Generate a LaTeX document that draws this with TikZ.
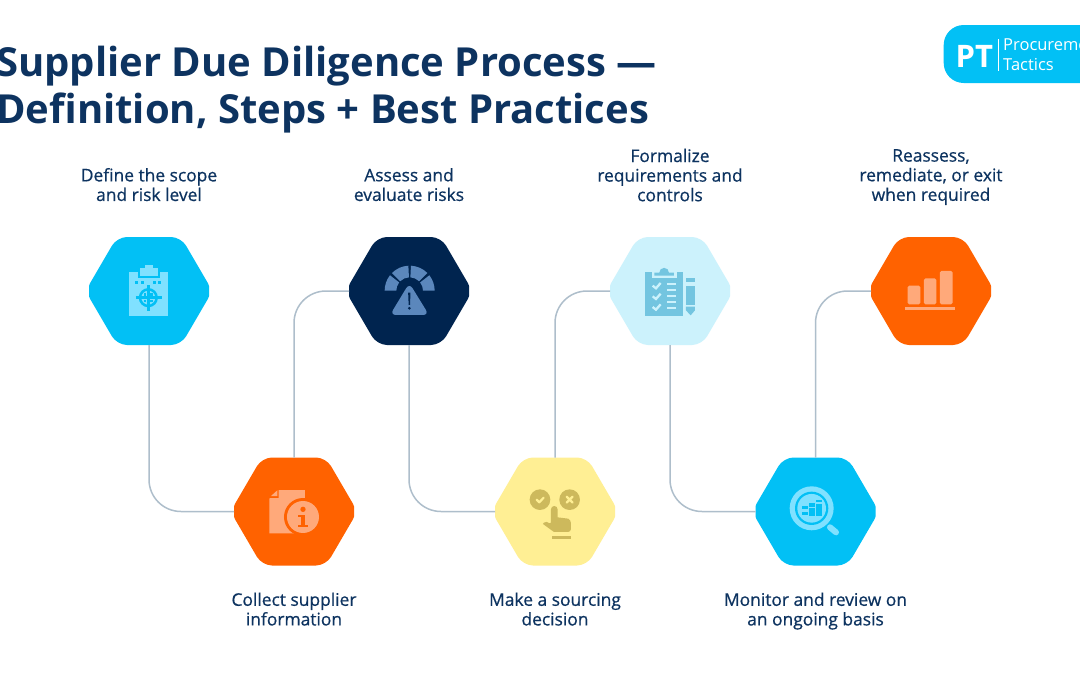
\documentclass[tikz,border=0pt]{standalone}
\usepackage{fontspec}
\setmainfont{Open Sans}
\newfontfamily\semi{Open Sans}[FakeBold=0.6]
\definecolor{cy}{HTML}{02C0F5}
\definecolor{nv}{HTML}{00244F}
\definecolor{orng}{HTML}{FF6200}
\definecolor{yel}{HTML}{FFEF94}
\definecolor{lb}{HTML}{CCF2FC}
\definecolor{ttl}{HTML}{0D3360}
\definecolor{conn}{HTML}{AEBECB}
\definecolor{icy}{HTML}{80E1FF}
\definecolor{ior}{HTML}{FFA97A}
\definecolor{inv}{HTML}{5B87BC}
\definecolor{iye}{HTML}{CDB95C}
\definecolor{ilb}{HTML}{73C5E0}
\tikzset{
 hexa/.style={rectangle,inner sep=0pt,outer sep=0pt,minimum width=120pt,minimum height=108pt,
  path picture={\begin{scope}[shift={(path picture bounding box.center)}]
   \fill[#1] (0,-54) [rounded corners=10pt] -- (32,-54) [rounded corners=9pt] -- (63.5,0) [rounded corners=10pt] -- (32,54) -- (-32,54) [rounded corners=9pt] -- (-63.5,0) [rounded corners=10pt] -- (-32,-54) [sharp corners] -- cycle;
  \end{scope}}},
 link/.style={draw=conn,line width=1.5pt,rounded corners=32pt},
 lbl/.style={text=ttl,align=center,font=\semi\fontsize{17.4}{19.6}\selectfont,inner sep=0pt,text depth=4pt},
 zoomed/.style={shift={#1},x=0.3333pt,y=-0.3333pt}
}
\newcommand{\gaugeseg}[2]{\fill[inv] ({209+75*cos(#1)},{197-75*sin(#1)}) arc[start angle=-#1,end angle=-#2,radius=75] -- ({209+40*cos(#2)},{197-40*sin(#2)}) arc[start angle=-#2,end angle=-#1,radius=40] -- cycle;}
\begin{document}
\begin{tikzpicture}[x=1pt,y=-1pt]
\useasboundingbox (0,0) rectangle (1080,675);
\fill[white] (0,0) rectangle (1080,675);
% title
\node[anchor=west,align=left,text=ttl,inner sep=0pt,font=\bfseries\fontsize{40}{47}\selectfont] (title) at (-4,89.5) {Supplier Due Diligence Process —\\Definition, Steps + Best Practices};
% logo
\fill[cy,rounded corners=20pt] (943.7,25) rectangle (1110,83);
\node[anchor=base west,text=white,inner sep=0pt,font=\bfseries\fontsize{31}{31}\selectfont] (pt) at (955.5,67) {PT};
\draw[white,line width=0.8pt] (998.3,39) -- (998.3,71);
\node[anchor=base west,text=white,inner sep=0pt,font=\fontsize{16.5}{16.5}\selectfont] (pr) at (1003,50) {Procurement};
\node[anchor=base west,text=white,inner sep=0pt,font=\fontsize{16.5}{16.5}\selectfont] (ta) at (1003,70) {Tactics};
% hexagons
\node[hexa=cy] (h1) at (149,291) {};
\node[hexa=orng] (h2) at (294,511.5) {};
\node[hexa=nv] (h3) at (409,291) {};
\node[hexa=yel] (h4) at (555,511.5) {};
\node[hexa=lb] (h5) at (670,291) {};
\node[hexa=cy] (h6) at (815.5,511.5) {};
\node[hexa=orng] (h7) at (931,291) {};
% connectors
\draw[link] (h1.south) |- (h2.west);
\draw[link] (h2.north) |- (h3.west);
\draw[link] (h3.south) |- (h4.west);
\draw[link] (h4.north) |- (h5.west);
\draw[link] (h5.south) |- (h6.west);
\draw[link] (h6.north) |- (h7.west);
% labels
\node[lbl] (l1) at (149,186.5) {Define the scope\\and risk level};
\node[lbl] (l2) at (294,611) {Collect supplier\\information};
\node[lbl] (l3) at (409,186.5) {Assess and\\evaluate risks};
\node[lbl] (l4) at (555,611) {Make a sourcing\\decision};
\node[lbl] (l5) at (670,177) {Formalize\\requirements and\\controls};
\node[lbl] (l6) at (815.5,611) {Monitor and review on\\an ongoing basis};
\node[lbl] (l7) at (931,177) {Reassess,\\remediate, or exit\\when required};
% icon 1
\begin{scope}[zoomed={(70,220)}]
 \fill[icy] (178,155) rectangle (293,287);
 \fill[cy] (203,150) rectangle (270,175);
 \fill[icy] (210,143) rectangle (263,168);
 \fill[icy] (225,135) rectangle (248,145);
 \foreach \xx in {196,212,248,264} \fill[cy] (\xx,184) rectangle +(9,9);
 \draw[cy,line width=2.5pt] (235,233) circle[radius=25];
 \draw[cy,line width=2.4pt] (198,233) -- (275,233) (235,196) -- (235,272);
 \foreach \xx in {223,243} \foreach \zz in {225,245} \fill[cy] (\zz-4,\xx-4) rectangle +(8,8);
\end{scope}
% icon 2
\begin{scope}[zoomed={(220,440)}]
 \fill[ior] (148,176) -- (176,150) -- (255,150) -- (255,280) -- (148,280) -- cycle;
 \fill[orng] (150,170) -- (172,150) -- (176,150) -- (176,174) -- (150,174) -- cycle;
 \fill[ior] (153,168) -- (172,151) -- (172,168) -- cycle;
 \fill[orng] (249,231) circle[radius=57];
 \fill[ior] (249,231) circle[radius=48];
 \fill[orng] (249,208) circle[radius=8];
 \fill[orng] (235,224) rectangle (256,232);
 \fill[orng] (244,224) rectangle (255,256);
 \fill[orng] (233,254) rectangle (265,262);
\end{scope}
% icon 3
\begin{scope}[zoomed={(340,225)}]
 \gaugeseg{180}{142}
 \gaugeseg{135}{93}
 \gaugeseg{87}{45}
 \gaugeseg{38}{0}
 \fill[nv,rounded corners=5pt] (208,158) -- (284,284) -- (134,284) -- cycle;
 \fill[inv,rounded corners=6pt] (208,174) -- (267,270) -- (150,270) -- cycle;
 \fill[nv] (204.5,203) -- (211.5,203) -- (210,240) -- (206,240) -- cycle;
 \fill[nv] (208,250) circle[radius=4.5];
\end{scope}
% icon 4
\begin{scope}[zoomed={(220,440)}]
 \fill[iye] (960,179) circle[radius=31];
 \fill[iye] (1049,179) circle[radius=31];
 \draw[yel,line width=2.2pt,line cap=round,line join=round] (950,179) -- (958,187) -- (971,173);
 \draw[yel,line width=2.2pt,line cap=round] (1040,170) -- (1058,188) (1058,170) -- (1040,188);
 \fill[yel] (1003,205) circle[radius=17];
 \fill[iye] (993,208) arc[start angle=-180,end angle=0,radius=10] -- (1013,232) -- (1045,236) [rounded corners=3pt] -- (1053,240) -- (1053,276) [sharp corners] -- (1002,276) -- (969,252) [rounded corners=2pt] -- (975,243) -- (993,252) [sharp corners] -- cycle;
 \fill[iye] (995,289) rectangle (1053,297);
\end{scope}
% icon 5
\begin{scope}[zoomed={(340,225)}]
 \fill[ilb] (915,140) rectangle (1030,272);
 \fill[lb] (935,135) rectangle (1010,160);
 \fill[ilb] (943,152) -- (943,143) -- (958,143) arc[start angle=-180,end angle=0,radius=14.5] -- (1002,143) -- (1002,152) -- cycle;
 \foreach \yy in {182,214,246} \draw[lb,line width=2.3pt] (938,\yy) -- (948,\yy+8) -- (962,\yy-8);
 \foreach \yy in {177,196,214,231,249} \fill[lb] (980,\yy-3.5) rectangle (1008,\yy+3.5);
 \fill[ilb] (1038,159) rectangle (1065,172);
 \fill[ilb] (1038,184) rectangle (1065,239);
 \fill[ilb] (1038,245) -- (1065,245) -- (1065,256) -- (1052,271) -- (1038,256) -- cycle;
\end{scope}
% icon 6
\begin{scope}[zoomed={(740,225)}]
 \fill[icy] (215,850) circle[radius=66];
 \fill[cy] (215,850) circle[radius=50];
 \fill[icy] (215,850) circle[radius=43];
 \draw[icy,line width=6pt,line cap=round] (270,907) -- (288,922);
 \fill[cy] (187,843) rectangle (203,852);
 \fill[cy] (187,860) rectangle (203,870);
 \fill[cy] (208,835) rectangle (224,845);
 \fill[cy] (208,850) rectangle (224,872);
 \fill[cy] (229,825) rectangle (245,832);
 \fill[cy] (229,838) rectangle (245,872);
\end{scope}
% icon 7
\begin{scope}[zoomed={(740,225)}]
 \fill[ior,rounded corners=1.5pt] (503,238) -- (503,182) -- (541,182) -- (541,238) -- cycle;
 \fill[ior,rounded corners=1.5pt] (552,238) -- (552,160) -- (589,160) -- (589,238) -- cycle;
 \fill[ior,rounded corners=1.5pt] (600,238) -- (600,138) -- (638,138) -- (638,238) -- cycle;
 \fill[ior] (495,246) rectangle (645,256);
\end{scope}
\end{tikzpicture}
\end{document}
